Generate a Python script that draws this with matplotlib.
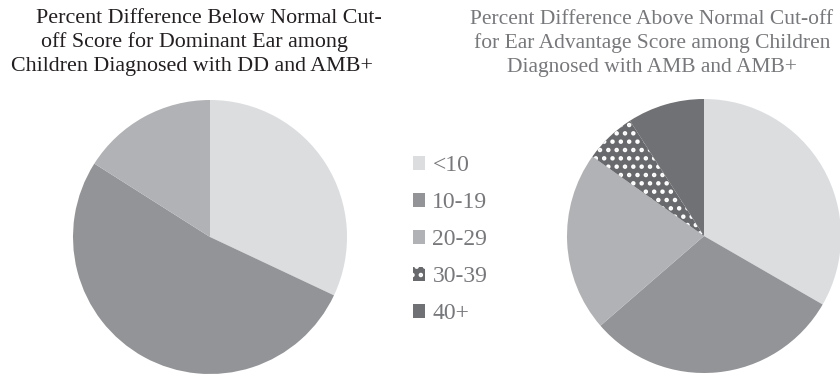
import matplotlib.pyplot as plt

plt.rcParams['font.family'] = ['Liberation Serif', 'DejaVu Serif']
plt.rcParams['hatch.linewidth'] = 2.0

# score bands shared by both pies
categories = ['<10', '10-19', '20-29', '30-39', '40+']
colors = ['#dcdddf', '#939497', '#b1b2b5', '#68696c', '#707174']
hatches = [None, None, None, '..', None]

# children counts per band
dominant_ear = [8, 13, 4]
ear_advantage = [11, 10, 7, 2, 3]

left_title = ['Percent Difference Below Normal Cut-',
              'off Score for Dominant Ear among',
              'Children Diagnosed with DD and AMB+']
right_title = ['Percent Difference Above Normal Cut-off',
               'for Ear Advantage Score among Children',
               'Diagnosed with AMB and AMB+']

W, H = 840, 377
fig = plt.figure(figsize=(W / 100, H / 100), dpi=100)


def pie_axes(cx, cy, r):
    return fig.add_axes([(cx - r) / W, (H - cy - r) / H, 2 * r / W, 2 * r / H])


def draw_pie(ax, values):
    n = len(values)
    wedges, _ = ax.pie(values, colors=colors[:n], startangle=90, counterclock=False,
                       radius=1, wedgeprops={'linewidth': 0})
    for w, h in zip(wedges, hatches[:n]):
        if h:
            w.set_hatch(h)
            w.set_edgecolor('white')
            w.set_linewidth(0)
    ax.set_xlim(-1, 1)
    ax.set_ylim(-1, 1)
    ax.set_aspect('equal')
    ax.axis('off')
    return wedges


ax1 = pie_axes(210, 237, 137)
draw_pie(ax1, dominant_ear)

ax2 = pie_axes(704, 236, 137)
wedges = draw_pie(ax2, ear_advantage)

# title lines, placed one baseline at a time
for i, (line, cx) in enumerate(zip(left_title, [209, 194, 192])):
    fig.text(cx / W, 1 - (23 + 24 * i) / H, line, ha='center', va='baseline',
             fontsize=15.8, color='#231f20')
for i, line in enumerate(right_title):
    fig.text(652 / W, 1 - (24 + 24 * i) / H, line, ha='center', va='baseline',
             fontsize=15.5, color='#77787b')

fig.legend(wedges, categories, loc='upper left', bbox_to_anchor=(392 / W, 1 - 134 / H),
           frameon=False, fontsize=17, labelcolor='#77787b', handlelength=0.51,
           handleheight=0.51, handletextpad=0.3, labelspacing=0.68)

fig.savefig('out.png', dpi=100)
